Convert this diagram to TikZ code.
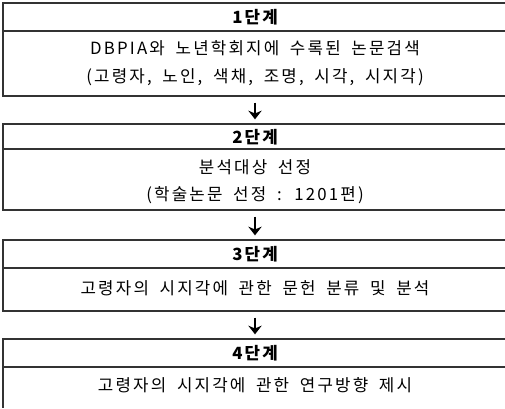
\documentclass[tikz,border=0pt]{standalone}
\usepackage{fontspec}
\setmainfont{Noto Sans CJK KR}[LetterSpace=13, WordSpace=1.8]
\usepackage{tikz}
\usetikzlibrary{arrows.meta}
\tikzset{
    boxline/.style={draw=black!80, line width=0.8pt},
    stage/.style={
        font={\fontsize{12.6pt}{15pt}\selectfont\bfseries},
        inner sep=0pt
    },
    content/.style={
        font={\fontsize{12.6pt}{15pt}\selectfont},
        inner sep=0pt
    },
    stepline/.style={->, line width=2pt, shorten <=5pt, shorten >=3.5pt},
}

\begin{document}
\begin{tikzpicture}[x=0.75pt, y=-0.75pt, >={Stealth[length=6.5pt, width=10pt]}]

\useasboundingbox (0,0) rectangle (505,408);

\foreach \n/\t/\d/\b in {1/3/31/96, 2/124/149/210, 3/240/268/311} {
  \draw [boxline] (505,\t) -- (3,\t) -- (3,\b) -- (505,\b);
  \draw [boxline] (3,\d) -- (505,\d);
  \coordinate (bottom-\n) at (255,\b);
}
\draw [boxline] (505,339) -- (3,339) -- (3,408);
\draw [boxline] (3,367) -- (505,367);

\foreach \n/\y in {2/124, 3/240, 4/339}
  \coordinate (top-\n) at (255,\y);

\foreach \n/\y in {1/17, 2/137, 3/254, 4/353}
  \node [stage] (stage-\n) at (255,\y) {\n{}단계};

\node [content] (search) at (255,48) {DBPIA와 노년학회지에 수록된 논문검색};
\node [content] (keywords) at (255,77) {(고령자, 노인, 색채, 조명, 시각, 시지각)};
\node [content] (select) at (255,167) {분석대상 선정};
\node [content] (papers) at (255,195) {(학술논문 선정 : 1201편)};
\node [content] (analysis) at (255,288) {고령자의 시지각에 관한 문헌 분류 및 분석};
\node [content] (direction) at (255,385) {고령자의 시지각에 관한 연구방향 제시};

\foreach \i/\j in {1/2, 2/3, 3/4}
  \draw [stepline] (bottom-\i) -- (top-\j);

\end{tikzpicture}
\end{document}
